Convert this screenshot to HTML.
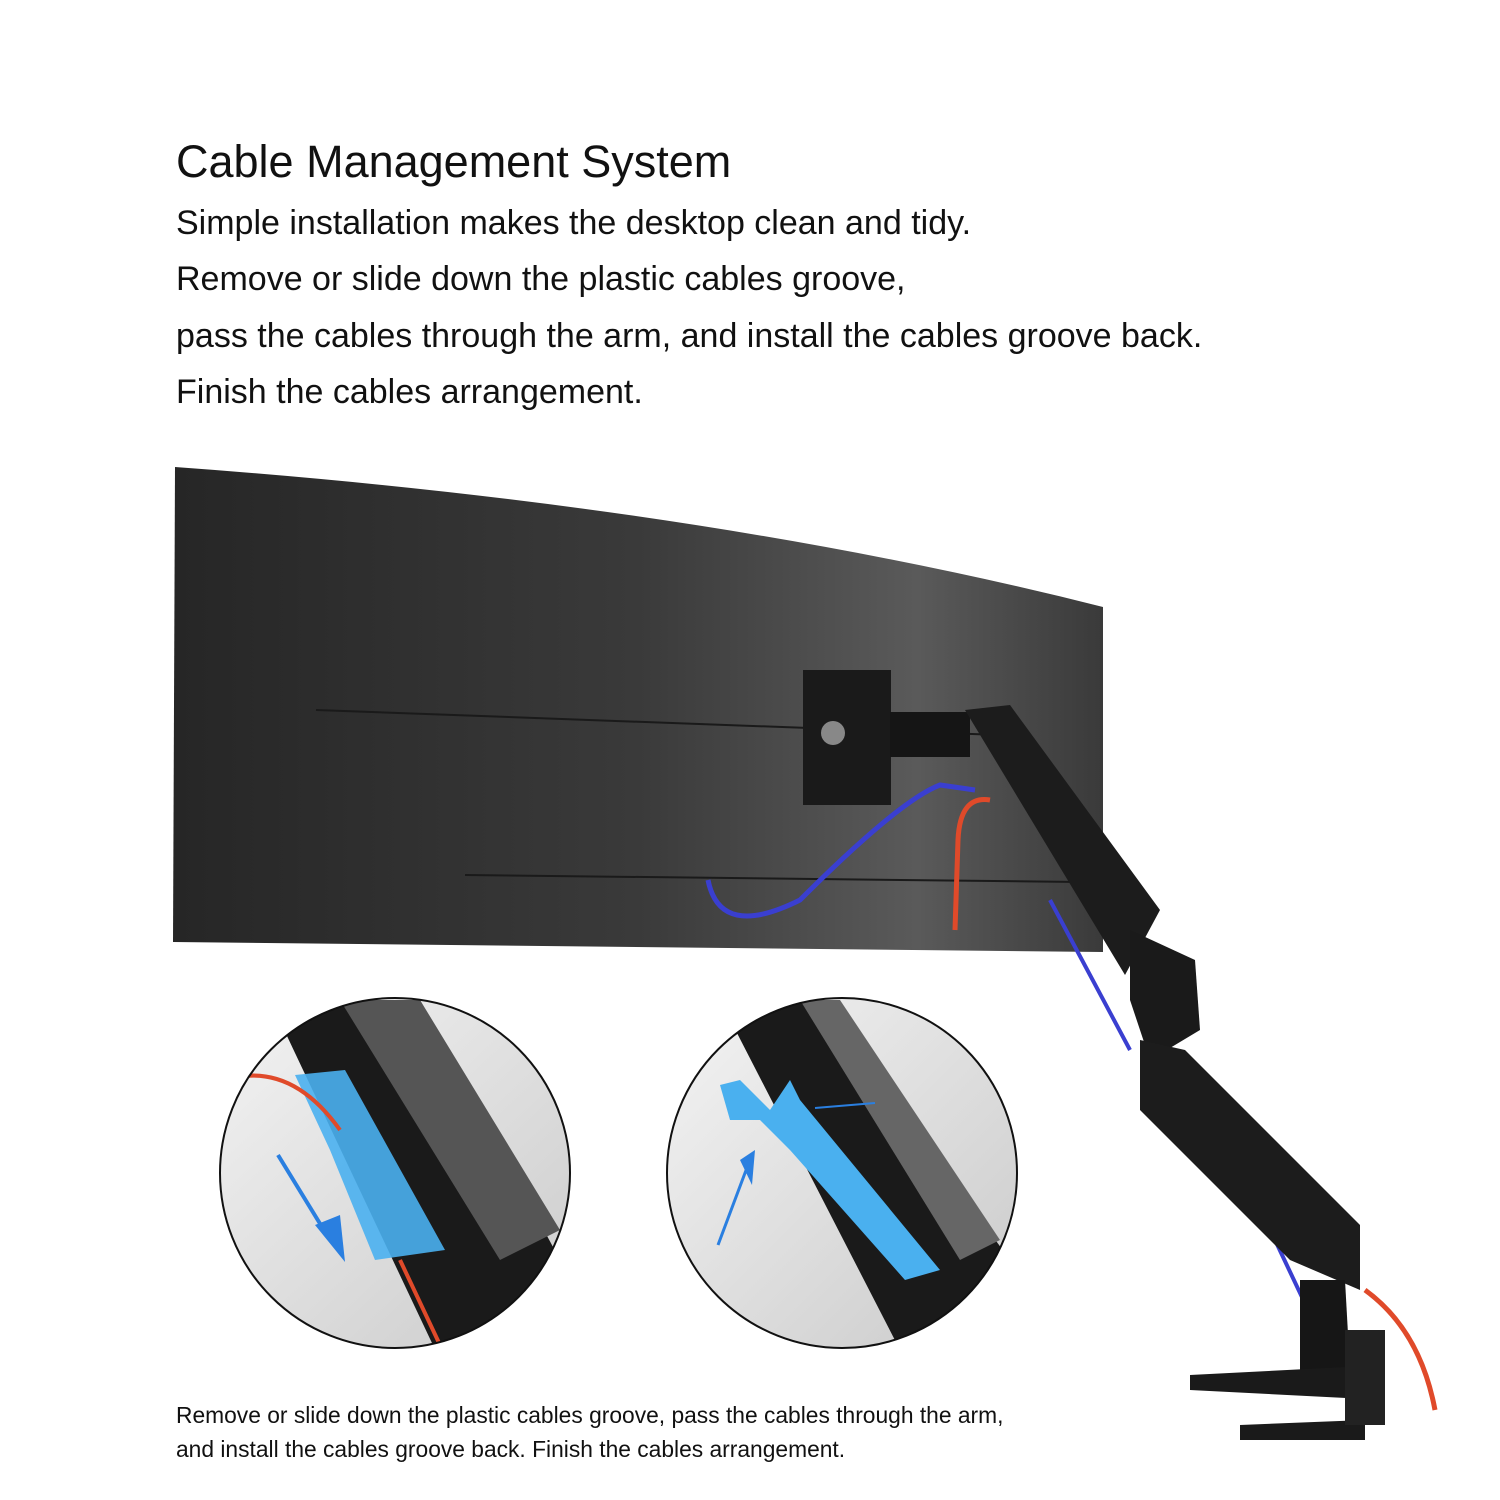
<!DOCTYPE html>
<html><head><meta charset="utf-8"><style>
body{margin:0;width:1500px;height:1500px;background:#fff;overflow:hidden;position:relative;font-family:"Liberation Sans",sans-serif;color:#111}
.t{position:absolute;left:176px;white-space:nowrap}
</style></head><body>
<div class="t" style="top:136px;font-size:45px">Cable Management System</div>
<div class="t" style="top:195px;font-size:34px;line-height:56.3px">Simple installation makes the desktop clean and tidy.<br>Remove or slide down the plastic cables groove,<br>pass the cables through the arm, and install the cables groove back.<br>Finish the cables arrangement.</div>
<div class="t" style="top:1398px;font-size:22.8px;line-height:34px">Remove or slide down the plastic cables groove, pass the cables through the arm,<br>and install the cables groove back. Finish the cables arrangement.</div>
<svg width="1500" height="1500" style="position:absolute;left:0;top:0">
<defs>
<linearGradient id="m" x1="0" x2="1" y1="0" y2="0">
<stop offset="0" stop-color="#262626"/><stop offset="0.5" stop-color="#3a3a3a"/><stop offset="0.8" stop-color="#5a5a5a"/><stop offset="1" stop-color="#3a3a3a"/></linearGradient>
<linearGradient id="c" x1="0" x2="1" y1="0" y2="1">
<stop offset="0" stop-color="#f5f5f5"/><stop offset="1" stop-color="#c8c8c8"/></linearGradient>
<clipPath id="c1"><circle cx="395" cy="1173" r="175"/></clipPath>
<clipPath id="c2"><circle cx="842" cy="1173" r="175"/></clipPath>
</defs>
<path d="M175 467 Q700 505 1103 607 L1103 952 L173 942 Z" fill="url(#m)"/>
<line x1="316" y1="710" x2="1000" y2="735" stroke="#1a1a1a" stroke-width="2"/>
<line x1="465" y1="875" x2="1080" y2="882" stroke="#1a1a1a" stroke-width="2"/>
<rect x="803" y="670" width="88" height="135" fill="#1a1a1a"/>
<rect x="890" y="712" width="80" height="45" fill="#151515"/>
<circle cx="833" cy="733" r="12" fill="#888"/>
<path d="M708 880 Q720 940 800 900 Q900 800 940 785 L975 790" stroke="#3a3fd0" stroke-width="5" fill="none"/>
<path d="M990 800 Q960 795 958 840 L955 930" stroke="#e04a2a" stroke-width="5" fill="none"/>
<path d="M1050 900 L1130 1050 M1275 1240 L1360 1420" stroke="#3a3fd0" stroke-width="4" fill="none"/>
<path d="M1365 1290 Q1420 1330 1435 1410" stroke="#e04a2a" stroke-width="5" fill="none"/>
<path d="M965 710 L1010 705 L1160 910 L1125 975 Z" fill="#1c1c1c"/>
<path d="M1130 930 L1195 960 L1200 1030 L1150 1060 L1130 1000 Z" fill="#1a1a1a"/>
<path d="M1140 1040 L1185 1050 L1360 1225 L1360 1290 L1290 1260 L1140 1110 Z" fill="#1c1c1c"/>
<path d="M1300 1280 L1345 1280 L1350 1370 L1300 1370 Z" fill="#161616"/>
<path d="M1190 1375 L1385 1365 L1385 1400 L1190 1390 Z" fill="#1a1a1a"/>
<path d="M1240 1425 L1365 1420 L1365 1440 L1240 1440 Z" fill="#1a1a1a"/>
<rect x="1345" y="1330" width="40" height="95" fill="#222"/>
<g clip-path="url(#c1)">
<rect x="200" y="990" width="400" height="370" fill="url(#c)"/>
<path d="M270 1000 L420 1000 L560 1260 L520 1360 L440 1360 Z" fill="#1a1a1a"/>
<path d="M340 1000 L420 1000 L560 1230 L500 1260 Z" fill="#555"/>
<path d="M295 1075 L345 1070 L445 1250 L375 1260 L330 1150 Z" fill="#4ab0ef" opacity=".9"/>
<path d="M225 1080 Q290 1060 340 1130 M400 1260 L440 1345" stroke="#e04a2a" stroke-width="4" fill="none"/>
<path d="M278 1155 L330 1240" stroke="#2a7fe0" stroke-width="4"/>
<path d="M315 1225 L345 1262 L340 1215 Z" fill="#2a7fe0"/>
</g>
<circle cx="395" cy="1173" r="175" fill="none" stroke="#111" stroke-width="2"/>
<g clip-path="url(#c2)">
<rect x="660" y="990" width="370" height="370" fill="url(#c)"/>
<path d="M720 1000 L820 1000 L1010 1260 L960 1350 L900 1350 Z" fill="#1a1a1a"/>
<path d="M800 1000 L840 1000 L1000 1240 L960 1260 Z" fill="#666"/>
<path d="M720 1085 L740 1080 L770 1110 L790 1080 L800 1100 L940 1270 L905 1280 L790 1150 L760 1120 L730 1120 Z" fill="#4ab0ef"/>
<path d="M718 1245 L748 1165" stroke="#2a7fe0" stroke-width="3"/>
<path d="M740 1160 L755 1150 L752 1185 Z" fill="#2a7fe0"/>
<path d="M875 1103 L815 1108" stroke="#2a7fe0" stroke-width="2"/>
</g>
<circle cx="842" cy="1173" r="175" fill="none" stroke="#111" stroke-width="2"/>
</svg>
</body></html>
